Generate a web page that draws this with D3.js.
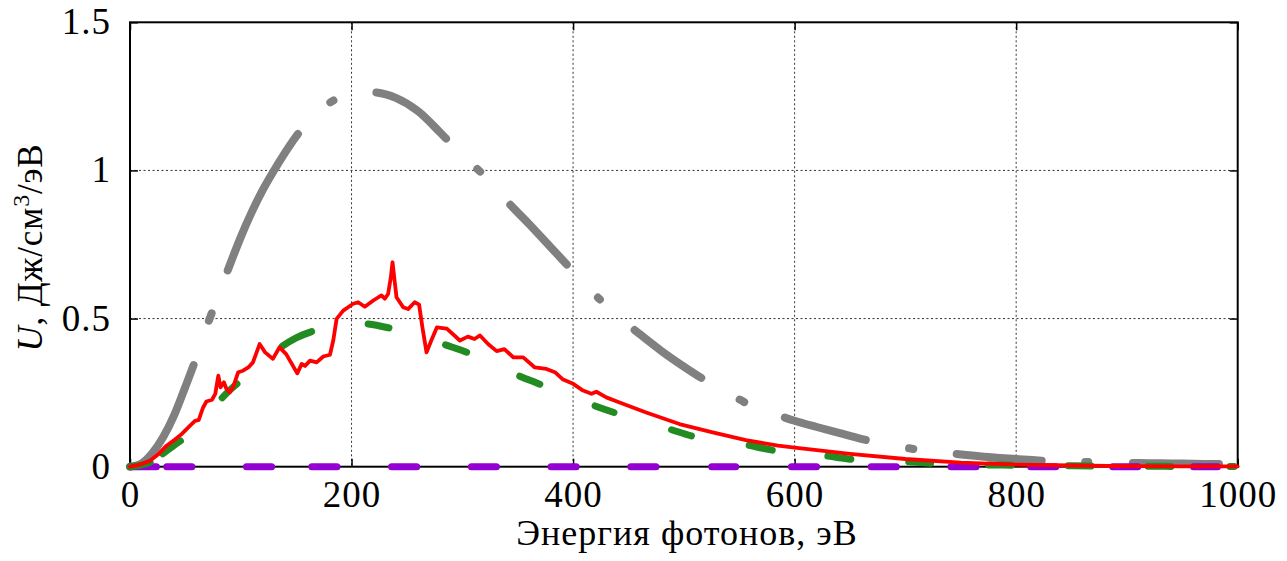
<!DOCTYPE html>
<html>
<head>
<meta charset="utf-8">
<script src="https://cdn.jsdelivr.net/npm/d3@7"></script>
<style>
  body { margin: 0; background: #fff; }
  text { font-family: "Liberation Serif", "Times New Roman", serif; fill: #000; }
</style>
</head>
<body>
<div id="chart"></div>
<script>
// Data
const xTicks = [0, 200, 400, 600, 800, 1000];
const yTicks = [0, 0.5, 1, 1.5];

const greyE = [0, 10, 20, 30, 40, 50, 60, 70, 80, 90, 100, 110, 120, 130, 140, 150, 160, 170, 180, 190, 200, 210, 220, 240, 260, 280, 300, 320, 340, 360, 380, 400, 420, 440, 460, 480, 500, 520, 540, 560, 580, 600, 620, 640, 660, 680, 700, 720, 740, 760, 780, 800, 820, 840, 860, 880, 900, 920, 940, 960, 980, 1000];
const greyU = [0, 0.01, 0.045, 0.1, 0.175, 0.27, 0.37, 0.48, 0.58, 0.68, 0.775, 0.86, 0.935, 1.0, 1.06, 1.115, 1.16, 1.2, 1.228, 1.248, 1.26, 1.265, 1.264, 1.245, 1.2, 1.128, 1.05, 0.982, 0.897, 0.82, 0.74, 0.66, 0.58, 0.51, 0.448, 0.39, 0.338, 0.29, 0.248, 0.208, 0.18, 0.155, 0.134, 0.114, 0.094, 0.077, 0.064, 0.053, 0.045, 0.038, 0.031, 0.026, 0.021, 0.018, 0.016, 0.014, 0.013, 0.012, 0.011, 0.01, 0.009, 0.008];

const greenE = [0, 10, 20, 30, 40, 50, 60, 70, 80, 90, 100, 110, 120, 135, 150, 167, 180, 200, 212, 237, 260, 282, 307, 330, 349, 373, 395, 417, 440, 462, 486, 510, 535, 556, 583, 605, 627, 654, 677, 700, 726, 750, 772, 800, 850, 900, 950, 1000];
const greenU = [0, 0.005, 0.018, 0.045, 0.073, 0.1, 0.14, 0.18, 0.22, 0.258, 0.29, 0.32, 0.35, 0.4, 0.435, 0.46, 0.475, 0.485, 0.483, 0.466, 0.445, 0.415, 0.382, 0.342, 0.31, 0.274, 0.24, 0.209, 0.179, 0.152, 0.128, 0.101, 0.088, 0.074, 0.054, 0.045, 0.037, 0.024, 0.02, 0.017, 0.011, 0.008, 0.006, 0.005, 0.003, 0.002, 0.001, 0.001];

const redE = [0, 10, 18, 25, 33, 40, 46.6, 54, 58.7, 62, 66, 69, 74, 77, 79.7, 81.8, 84.8, 87, 90, 93, 97.7, 102, 106.8, 111, 117, 122, 129, 135, 141, 147, 151, 155, 158, 162.5, 168.5, 174.5, 180.5, 183.5, 186.5, 192.5, 201.5, 206, 212, 219.6, 227, 230, 233, 235.5, 237, 238.5, 240.6, 246.6, 251, 257, 261, 264, 267.7, 272, 277, 286, 297.8, 305, 311, 316, 323, 331, 338, 346, 355, 365.5, 376, 383.6, 391, 399.5, 409, 416.6, 421, 430, 442, 466, 496, 526, 556, 585, 600, 650, 700, 750, 800, 850, 900, 950, 1000];
const redU = [0, 0.008, 0.02, 0.04, 0.071, 0.09, 0.11, 0.138, 0.155, 0.157, 0.2, 0.22, 0.226, 0.246, 0.307, 0.268, 0.285, 0.263, 0.251, 0.268, 0.319, 0.324, 0.335, 0.352, 0.414, 0.386, 0.364, 0.403, 0.38, 0.341, 0.315, 0.347, 0.34, 0.358, 0.352, 0.372, 0.378, 0.426, 0.499, 0.527, 0.55, 0.555, 0.54, 0.561, 0.578, 0.567, 0.583, 0.64, 0.69, 0.64, 0.572, 0.538, 0.532, 0.555, 0.547, 0.47, 0.386, 0.426, 0.47, 0.466, 0.426, 0.439, 0.431, 0.443, 0.415, 0.39, 0.397, 0.369, 0.369, 0.335, 0.33, 0.319, 0.294, 0.281, 0.257, 0.246, 0.253, 0.234, 0.217, 0.183, 0.144, 0.116, 0.09, 0.071, 0.064, 0.043, 0.026, 0.014, 0.007, 0.004, 0.002, 0.001, 0.001];

const purpleE = [0, 100, 200, 300, 400, 500, 600, 700, 800, 900, 1000];
const purpleU = [0, 0, 0, 0, 0, 0, 0, 0, 0, 0, 0];

// visible dash ranges (in eV) of the dashed curves
const greyDashes = [[0, 58.7], [70, 75], [87, 154], [178, 187], [219, 288], [311, 319], [341, 397], [420, 427], [453, 519], [547.5, 558], [588, 668], [700, 711], [743, 827], [859, 869], [902, 987]];
const greenDashes = [[0, 21], [27, 48], [81, 99], [135, 167], [212, 237], [282, 307], [349, 373], [417, 440], [486, 510], [556, 583], [627, 654], [700, 726], [772, 799], [844, 871], [916, 943], [990, 1000]];
const purpleDashes = [[0, 27], [30, 59], [102, 131], [161, 190], [233, 262], [305, 334], [377, 406], [449, 478], [522, 550], [594, 623], [666, 695], [738, 767], [810, 839], [884, 913], [957, 985]];

// Dimensions
const dims = {
  width: 1287,
  height: 561,
  left: 130,
  right: 1237.7,
  top: 22.3,
  bottom: 466.7,
};

const svg = d3.select("#chart")
  .append("svg")
  .attr("width", dims.width)
  .attr("height", dims.height);

svg.append("rect").attr("width", dims.width).attr("height", dims.height).attr("fill", "#fff");

// Scales
const xScale = d3.scaleLinear().domain([0, 1000]).range([dims.left, dims.right]);
const yScale = d3.scaleLinear().domain([0, 1.5]).range([dims.bottom, dims.top]);

// Grid
svg.append("g")
  .selectAll("line")
  .data(xTicks.slice(1, -1))
  .join("line")
  .attr("x1", (d) => xScale(d)).attr("x2", (d) => xScale(d))
  .attr("y1", dims.top).attr("y2", dims.bottom)
  .attr("stroke", "#333").attr("stroke-width", 1)
  .attr("stroke-dasharray", "2,2.5");

svg.append("g")
  .selectAll("line")
  .data(yTicks.slice(1, -1))
  .join("line")
  .attr("x1", dims.left).attr("x2", dims.right)
  .attr("y1", (d) => yScale(d)).attr("y2", (d) => yScale(d))
  .attr("stroke", "#333").attr("stroke-width", 1)
  .attr("stroke-dasharray", "2,2.5");

// Axes (inward ticks, mirrored)
const tickLen = 8;
svg.append("g")
  .attr("transform", `translate(0,${dims.bottom})`)
  .call(d3.axisBottom(xScale).tickValues(xTicks).tickSize(-tickLen).tickFormat(""))
  .call((g) => g.select(".domain").remove());
svg.append("g")
  .attr("transform", `translate(0,${dims.top})`)
  .call(d3.axisTop(xScale).tickValues(xTicks).tickSize(-tickLen).tickFormat(""))
  .call((g) => g.select(".domain").remove());
svg.append("g")
  .attr("transform", `translate(${dims.left},0)`)
  .call(d3.axisLeft(yScale).tickValues(yTicks).tickSize(-tickLen).tickFormat(""))
  .call((g) => g.select(".domain").remove());
svg.append("g")
  .attr("transform", `translate(${dims.right},0)`)
  .call(d3.axisRight(yScale).tickValues(yTicks).tickSize(-tickLen).tickFormat(""))
  .call((g) => g.select(".domain").remove());
svg.selectAll(".tick line").attr("stroke", "#000").attr("stroke-width", 1.5);

svg.append("rect")
  .attr("x", dims.left).attr("y", dims.top)
  .attr("width", dims.right - dims.left).attr("height", dims.bottom - dims.top)
  .attr("fill", "none").attr("stroke", "#000").attr("stroke-width", 2);

// Tick labels
svg.append("g")
  .selectAll("text")
  .data(xTicks)
  .join("text")
  .attr("x", (d) => xScale(d) + 0.5)
  .attr("y", 507)
  .attr("text-anchor", "middle")
  .style("font-size", "37px")
  .style("letter-spacing", "1px")
  .text((d) => d);

svg.append("g")
  .selectAll("text")
  .data(yTicks)
  .join("text")
  .attr("x", 111)
  .attr("y", (d) => yScale(d) + 12)
  .attr("text-anchor", "end")
  .style("font-size", "37px")
  .style("letter-spacing", "1px")
  .text((d) => d);

// Axis titles
svg.append("text")
  .attr("x", 687)
  .attr("y", 545)
  .attr("text-anchor", "middle")
  .style("font-size", "36px")
  .style("letter-spacing", "1px")
  .text("Энергия фотонов, эВ");

const yTitle = svg.append("text")
  .attr("transform", `translate(42,${(dims.top + dims.bottom) / 2 + 3}) rotate(-90)`)
  .attr("text-anchor", "middle")
  .style("font-size", "35px")
  .style("letter-spacing", "0.8px");
yTitle.append("tspan").style("font-style", "italic").text("U");
yTitle.append("tspan").text(", Дж/см");
yTitle.append("tspan").attr("dy", -13).style("font-size", "24px").text("3");
yTitle.append("tspan").attr("dy", 13).text("/эВ");

// Lines
const smoothLine = d3.line()
  .x((d) => xScale(d[0]))
  .y((d) => yScale(d[1]))
  .curve(d3.curveMonotoneX);

const rawLine = d3.line()
  .x((d) => xScale(d[0]))
  .y((d) => yScale(d[1]));

function dashArray(E, U, dashes, w) {
  const pts = E.map((e, i) => [xScale(e), yScale(U[i])]);
  const cum = [0];
  for (let i = 1; i < pts.length; i++) {
    cum.push(cum[i - 1] + Math.hypot(pts[i][0] - pts[i - 1][0], pts[i][1] - pts[i - 1][1]));
  }
  const lengthAt = (e) => {
    let i = d3.bisectRight(E, e) - 1;
    i = Math.max(0, Math.min(i, E.length - 2));
    const t = (e - E[i]) / (E[i + 1] - E[i]);
    return cum[i] + t * (cum[i + 1] - cum[i]);
  };
  const arr = [];
  let pos = 0;
  dashes.forEach(([a, b], k) => {
    const s = k === 0 ? 0 : lengthAt(a) + w / 2;
    const e = Math.max(s + 0.5, lengthAt(b) - w / 2);
    if (k > 0) arr.push(s - pos);
    arr.push(e - s);
    pos = e;
  });
  arr.push(10000);
  return arr.map((v) => v.toFixed(2)).join(",");
}

const series = [
  { E: greyE, U: greyU, color: "#808080", w: 8, dashes: greyDashes, line: smoothLine },
  { E: purpleE, U: purpleU, color: "#9400d3", w: 7, dashes: purpleDashes, line: rawLine },
  { E: greenE, U: greenU, color: "#228b22", w: 7, dashes: greenDashes, line: smoothLine },
  { E: redE, U: redU, color: "#ff0000", w: 3.8, dashes: null, line: rawLine },
];

series.forEach((s) => {
  const path = svg.append("path")
    .datum(s.E.map((e, i) => [e, s.U[i]]))
    .attr("d", s.line)
    .attr("fill", "none")
    .attr("stroke", s.color)
    .attr("stroke-width", s.w)
    .attr("stroke-linecap", "round")
    .attr("stroke-linejoin", "round");
  if (s.dashes) path.attr("stroke-dasharray", dashArray(s.E, s.U, s.dashes, s.w));
});
</script>
</body>
</html>
